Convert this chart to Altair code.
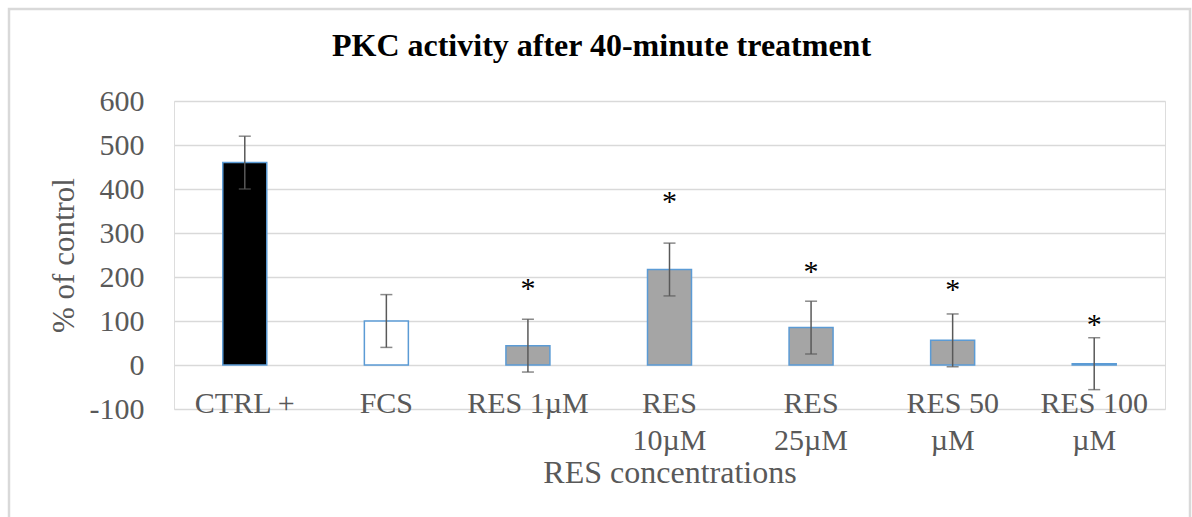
import altair as alt
import pandas as pd

# ---- data ----
categories = ["CTRL +", "FCS", "RES 1µM", "RES|10µM", "RES|25µM", "RES 50|µM", "RES 100|µM"]
values = [460, 100, 44, 217, 85, 56, 3]
errors = [60, 60, 60, 60, 60, 60, 59]
fills = ["#000000", "#FFFFFF", "#A5A5A5", "#A5A5A5", "#A5A5A5", "#A5A5A5", "#A5A5A5"]
star_cats = ["RES 1µM", "RES|10µM", "RES|25µM", "RES 50|µM", "RES 100|µM"]
star_y = [186, 384, 225, 183, 104]
y_ticks = [-100, 0, 100, 200, 300, 400, 500, 600]

df = pd.DataFrame({
    "cat": categories,
    "val": values,
    "lo": [v - e for v, e in zip(values, errors)],
    "hi": [v + e for v, e in zip(values, errors)],
})
stars = pd.DataFrame({"cat": star_cats, "y": star_y, "t": ["*"] * len(star_cats)})

FONT = "Liberation Serif"
GRAY = "#595959"

x = alt.X(
    "cat:N",
    sort=categories,
    scale=alt.Scale(domain=categories, paddingInner=0, paddingOuter=0),
    axis=alt.Axis(
        title="RES concentrations",
        labelAngle=0,
        labelExpr="split(datum.label, '|')",
        labelFont=FONT,
        labelFontSize=30,
        labelLineHeight=37,
        labelColor=GRAY,
        labelPadding=-21,
        labelOverlap=False,
        labelBound=False,
        labelFlush=False,
        domain=False,
        ticks=False,
        grid=False,
        titleFont=FONT,
        titleFontSize=32,
        titleFontWeight="normal",
        titleColor=GRAY,
        titlePadding=2,
    ),
)

y_scale = alt.Scale(domain=[-100, 600], nice=False, zero=False)
y_axis = alt.Axis(
    title="% of control",
    values=y_ticks,
    labelExpr="'' + datum.value",
    labelFont=FONT,
    labelFontSize=30,
    labelColor=GRAY,
    labelPadding=30,
    domain=False,
    ticks=False,
    grid=True,
    gridColor="#D9D9D9",
    gridWidth=1.5,
    titleFont=FONT,
    titleFontSize=31,
    titleFontWeight="normal",
    titleColor=GRAY,
    titlePadding=9,
)

bars = alt.Chart(df).mark_bar(size=44, stroke="#5B9BD5", strokeWidth=1.5).encode(
    x=x,
    y=alt.Y("val:Q", scale=y_scale, axis=y_axis),
    fill=alt.Fill("cat:N", scale=alt.Scale(domain=categories, range=fills), legend=None),
)

rules = alt.Chart(df).mark_rule(color=GRAY, strokeWidth=1.5).encode(
    x=alt.X("cat:N", sort=categories),
    y="lo:Q",
    y2="hi:Q",
)
caps_hi = alt.Chart(df).mark_tick(color=GRAY, size=12, thickness=1.5).encode(
    x=alt.X("cat:N", sort=categories), y="hi:Q"
)
caps_lo = alt.Chart(df).mark_tick(color=GRAY, size=12, thickness=1.5).encode(
    x=alt.X("cat:N", sort=categories), y="lo:Q"
)

star_text = alt.Chart(stars).mark_text(
    font=FONT, fontSize=30, color="#000000", baseline="middle", dy=6
).encode(x=alt.X("cat:N", sort=categories), y="y:Q", text="t:N")

frame = alt.Chart(df.head(1)).mark_rect(
    fill=None, stroke="#D9D9D9", strokeWidth=2.5
).encode(
    x=alt.value(-165), x2=alt.value(1016), y=alt.value(-92), y2=alt.value(440)
)

chart = alt.layer(frame, bars, rules, caps_hi, caps_lo, star_text).properties(
    width=991,
    height=308,
    title=alt.TitleParams(
        "PKC activity after 40-minute treatment",
        font=FONT,
        fontSize=32,
        fontWeight="bold",
        color="#000000",
        anchor="middle",
        baseline="alphabetic",
        dx=-68,
        offset=-80,
    ),
    autosize=alt.AutoSizeParams(type="none"),
    padding={"left": 174, "top": 101, "right": 27, "bottom": 108},
).configure_view(stroke=None).configure(background="#FFFFFF")

chart.save("out.html", embed_options={"renderer": "svg", "actions": False})
